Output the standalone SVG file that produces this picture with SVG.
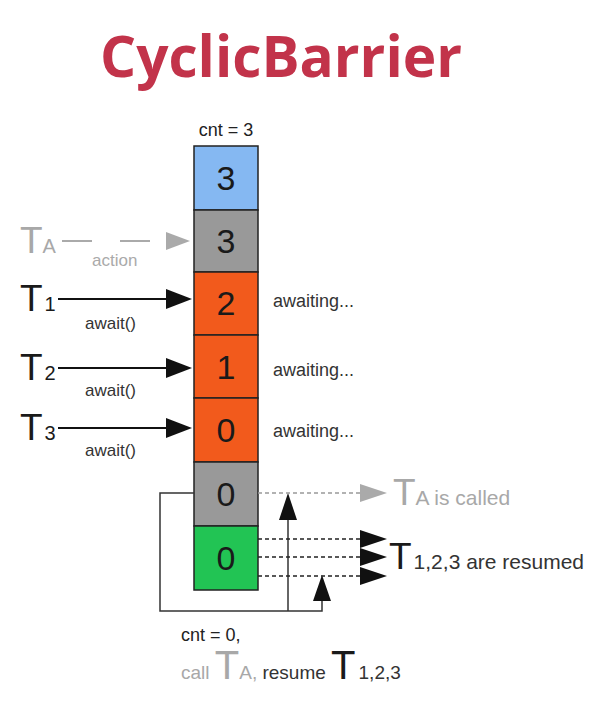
<svg xmlns="http://www.w3.org/2000/svg" width="603" height="720" viewBox="0 0 603 720">
<defs>
<style>
.t{font-family:"Liberation Sans",Arial,sans-serif;}
.num{font-family:"Liberation Sans",Arial,sans-serif;font-size:34px;fill:#1a1a1a;text-anchor:middle;}
.lbl{font-family:"Liberation Sans",Arial,sans-serif;font-size:17px;fill:#333;}
.box{stroke:#222;stroke-width:1.5;}
.big{font-size:37px;}
.sub{font-size:20px;}
.gray{fill:#a8a8a8;}
.dark{fill:#1a1a1a;}
</style>
</defs>
<rect width="603" height="720" fill="#fff"/>
<text x="281" y="77" text-anchor="middle" font-family="'Open Sans','Liberation Sans',sans-serif" font-weight="bold" font-size="58" fill="#c2334a" textLength="362" lengthAdjust="spacingAndGlyphs">CyclicBarrier</text>
<text class="lbl" x="226" y="136" text-anchor="middle" style="font-size:18px;fill:#222">cnt = 3</text>

<g id="box-blue"><rect class="box" x="194" y="146" width="64" height="64" fill="#85b8f2"/><text class="num" x="226" y="190">3</text></g>
<g id="box-gray1"><rect class="box" x="194" y="210" width="64" height="62" fill="#999"/><text class="num" x="226" y="253">3</text></g>
<g id="box-o1"><rect class="box" x="194" y="272" width="64" height="63" fill="#f25a1c"/><text class="num" x="226" y="315">2</text></g>
<g id="box-o2"><rect class="box" x="194" y="335" width="64" height="63" fill="#f25a1c"/><text class="num" x="226" y="379">1</text></g>
<g id="box-o3"><rect class="box" x="194" y="398" width="64" height="64" fill="#f25a1c"/><text class="num" x="226" y="442">0</text></g>
<g id="box-gray2"><rect class="box" x="194" y="462" width="64" height="64" fill="#999"/><text class="num" x="226" y="506">0</text></g>
<g id="box-green"><rect class="box" x="194" y="526" width="64" height="64" fill="#22c454"/><text class="num" x="226" y="570">0</text></g>

<g id="connectors">
<line x1="62" y1="241" x2="168" y2="241" stroke="#aaa" stroke-width="2" stroke-dasharray="30,28"/>
<polygon points="166,232 190,241 166,250" fill="#aaa"/>
<line x1="58" y1="299" x2="170" y2="299" stroke="#111" stroke-width="2"/>
<polygon points="166,289 192,299 166,309" fill="#111"/>
<line x1="58" y1="368" x2="170" y2="368" stroke="#111" stroke-width="2"/>
<polygon points="166,358 192,368 166,378" fill="#111"/>
<line x1="58" y1="428" x2="170" y2="428" stroke="#111" stroke-width="2"/>
<polygon points="166,418 192,428 166,438" fill="#111"/>
<polyline points="194,493 160,493 160,611 322,611 322,598" fill="none" stroke="#333" stroke-width="1.5"/>
<line x1="288" y1="611" x2="288" y2="518" stroke="#333" stroke-width="1.5"/>
<polygon points="279,520 288,493 297,520" fill="#111"/>
<polygon points="313,601 322,575 331,601" fill="#111"/>
<line x1="258" y1="493" x2="364" y2="493" stroke="#999" stroke-width="1.5" stroke-dasharray="4,3"/>
<polygon points="360,484 387,493 360,502" fill="#aaa"/>
<line x1="258" y1="539" x2="364" y2="539" stroke="#222" stroke-width="1.5" stroke-dasharray="4,3"/>
<line x1="258" y1="557" x2="364" y2="557" stroke="#222" stroke-width="1.5" stroke-dasharray="4,3"/>
<line x1="258" y1="576" x2="364" y2="576" stroke="#222" stroke-width="1.5" stroke-dasharray="4,3"/>
<polygon points="360,530 387,539 360,548" fill="#111"/>
<polygon points="360,548 387,557 360,566" fill="#111"/>
<polygon points="360,567 387,576 360,585" fill="#111"/>
</g>

<g id="labels">
<text class="t gray" x="20" y="253"><tspan class="big">T</tspan><tspan class="sub">A</tspan></text>
<text class="lbl" x="92" y="266" style="fill:#aaa">action</text>
<text class="t dark" x="20" y="311"><tspan class="big">T</tspan><tspan class="sub" dx="2">1</tspan></text>
<text class="lbl" x="85" y="329">await()</text>
<text class="t dark" x="20" y="380"><tspan class="big">T</tspan><tspan class="sub" dx="2">2</tspan></text>
<text class="lbl" x="85" y="396">await()</text>
<text class="t dark" x="20" y="440"><tspan class="big">T</tspan><tspan class="sub" dx="2">3</tspan></text>
<text class="lbl" x="85" y="456">await()</text>
<text class="lbl" x="273" y="307" style="font-size:18px">awaiting...</text>
<text class="lbl" x="273" y="376" style="font-size:18px">awaiting...</text>
<text class="lbl" x="273" y="437" style="font-size:18px">awaiting...</text>
<text class="t gray" x="393" y="505"><tspan class="big">T</tspan><tspan style="font-size:21px">A is called</tspan></text>
<text class="t dark" x="389" y="569"><tspan class="big">T</tspan><tspan style="font-size:21px" fill="#333" dx="2">1,2,3 are resumed</tspan></text>
<text class="lbl" x="181" y="641" style="font-size:18px;fill:#222">cnt = 0,</text>
<text class="t" x="181" y="679"><tspan class="gray" style="font-size:19px">call </tspan><tspan class="gray" style="font-size:40px">T</tspan><tspan class="gray" style="font-size:19px">A, </tspan><tspan style="font-size:19px" fill="#333">resume </tspan><tspan class="dark" style="font-size:40px">T</tspan><tspan style="font-size:19px" fill="#333" dx="3">1,2,3</tspan></text>
</g>
</svg>
